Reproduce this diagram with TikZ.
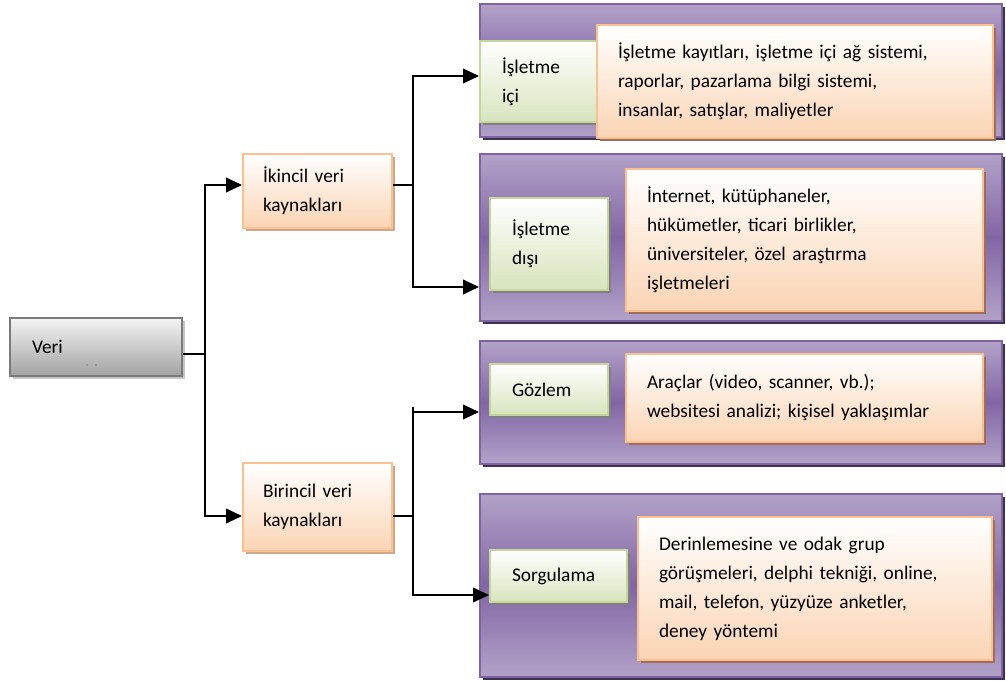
\documentclass[tikz,border=0pt]{standalone}
\usepackage{fontspec}
\setmainfont{Carlito}
\usetikzlibrary{arrows.meta,shadows}

\definecolor{purpleedge}{HTML}{8064A2}
\definecolor{purplelight}{HTML}{B3A2C8}
\definecolor{purpledark}{HTML}{8166A5}
\definecolor{purpleshadow}{HTML}{3F3151}
\definecolor{greenedge}{HTML}{C3D69B}
\definecolor{greenfill}{HTML}{D7E4BD}
\definecolor{orangeedge}{HTML}{FAC090}
\definecolor{orangefill}{HTML}{FBD4B4}
\definecolor{orangeshadow}{HTML}{9E6E5A}
\definecolor{orangeshadowlight}{HTML}{D0A888}
\definecolor{grayedge}{HTML}{7A7A7A}
\definecolor{graytop}{HTML}{F4F4F4}
\definecolor{graybottom}{HTML}{A2A2A2}

\begin{document}
\begin{tikzpicture}[x=0.75pt,y=-0.75pt,
  txt/.style={font=\fontsize{14.5}{21.75}\selectfont, align=left, text=black},
  purplebox/.style={draw=purpleedge, line width=1.5pt, inner sep=0pt,
    minimum width=391.5pt,
    top color=purplelight, bottom color=purplelight, middle color=purpledark,
    drop shadow={shadow xshift=2.5pt, shadow yshift=-2.5pt, fill=purpleshadow, opacity=1}},
  greenbox/.style={txt, draw=greenedge, line width=1.5pt, inner xsep=16.5pt, inner ysep=0pt,
    top color=white, bottom color=greenfill,
    drop shadow={shadow xshift=2.5pt, shadow yshift=-2.5pt, fill=gray, opacity=1}},
  orangebox/.style={txt, draw=orangeedge, line width=1.5pt, inner xsep=15.75pt, inner ysep=0pt,
    top color=white, bottom color=orangefill,
    drop shadow={shadow xshift=2.5pt, shadow yshift=-2.5pt, fill=orangeshadow, opacity=1}},
  sourcebox/.style={txt, draw=orangeedge, line width=1.5pt, inner xsep=15pt, inner ysep=0pt,
    text width=81.75pt, top color=white, bottom color=orangefill,
    drop shadow={shadow xshift=2.5pt, shadow yshift=-2.5pt, fill=orangeshadowlight, opacity=1}},
  rootbox/.style={txt, draw=grayedge, line width=2pt, inner xsep=16.5pt, inner ysep=0pt,
    text width=96pt, top color=graytop, bottom color=graybottom,
    drop shadow={shadow xshift=2.5pt, shadow yshift=-2.5pt, fill=gray!45, opacity=1}},
  conn/.style={draw=black, line width=1.5pt},
  arrow/.style={conn, -{Triangle[length=12pt,width=11pt]}}
]
\useasboundingbox (0,0) rectangle (1006,681);

% group frames
\node[purplebox, minimum height=99.75pt]  (p1) at (741,70.5)  {};
\node[purplebox, minimum height=125.25pt] (p2) at (741,237.5) {};
\node[purplebox, minimum height=92.25pt]  (p3) at (741,402.5) {};
\node[purplebox, minimum height=137.25pt] (p4) at (741,585.5) {};

% category labels
\node[greenbox, text width=56.25pt, minimum height=60.75pt] (g1) at (539.5,81.5) {İşletme\\içi};
\node[greenbox, text width=55.5pt, minimum height=69pt]     (g2) at (549,244)   {İşletme\\dışı};
\node[greenbox, text width=55.5pt, minimum height=38.25pt]  (g3) at (549,389.5) {Gözlem};
\node[greenbox, text width=69.75pt, minimum height=39pt]    (g4) at (558.5,576) {Sorgulama};

% examples
\node[orangebox, text width=265.5pt, minimum height=84.75pt] (o1) at (795,81.5)
  {İşletme kayıtları, işletme içi ağ sistemi,\\raporlar, pazarlama bilgi sistemi,\\insanlar, satışlar, maliyetler};
\node[orangebox, text width=236.25pt, minimum height=106.5pt] (o2) at (804.5,240)
  {İnternet, kütüphaneler,\\hükümetler, ticari birlikler,\\üniversiteler, özel araştırma\\işletmeleri};
\node[orangebox, text width=236.25pt, minimum height=66pt] (o3) at (804.5,398)
  {Araçlar (video, scanner, vb.);\\websitesi analizi; kişisel yaklaşımlar};
\node[orangebox, text width=234pt, minimum height=107.25pt] (o4) at (815,588.5)
  {Derinlemesine ve odak grup\\görüşmeleri, delphi tekniği, online,\\mail, telefon, yüzyüze anketler,\\deney yöntemi};

% sources
\node[sourcebox, minimum height=55.5pt] (ik)  at (317.5,191) {İkincil veri\\kaynakları};
\node[sourcebox, minimum height=66pt]   (bir) at (317.5,507) {Birincil veri\\kaynakları};

% root
\node[rootbox, minimum height=43.5pt] (veri) at (96,347) {Veri};
\fill[black!70] (87,365) circle (0.7) (96,365) circle (0.7);

% junctions and arrow levels
\coordinate (j0) at (205,354);
\coordinate (j1) at (413,185);
\coordinate (j2) at (413,516);
\coordinate (a1) at (413,76);
\coordinate (a2) at (413,287);
\coordinate (a3) at (413,412);
\coordinate (a4) at (413,595);
\coordinate (t3) at (413,407);

\draw[conn] (veri.east |- j0) -- (j0);
\draw[arrow] (j0) |- (ik.west |- j1);
\draw[arrow] (j0) |- (bir.west |- j2);

\draw[conn] (ik.east |- j1) -- (j1);
\draw[arrow] (j1) |- (p1.west |- a1);
\draw[arrow] (j1) |- (p2.west |- a2);

\draw[conn] (bir.east |- j2) -- (j2);
\draw[conn] (j2) -- (t3);
\draw[arrow] (j2) |- (p3.west |- a3);
\draw[arrow] (j2) |- (g4.west |- a4);
\end{tikzpicture}
\end{document}
